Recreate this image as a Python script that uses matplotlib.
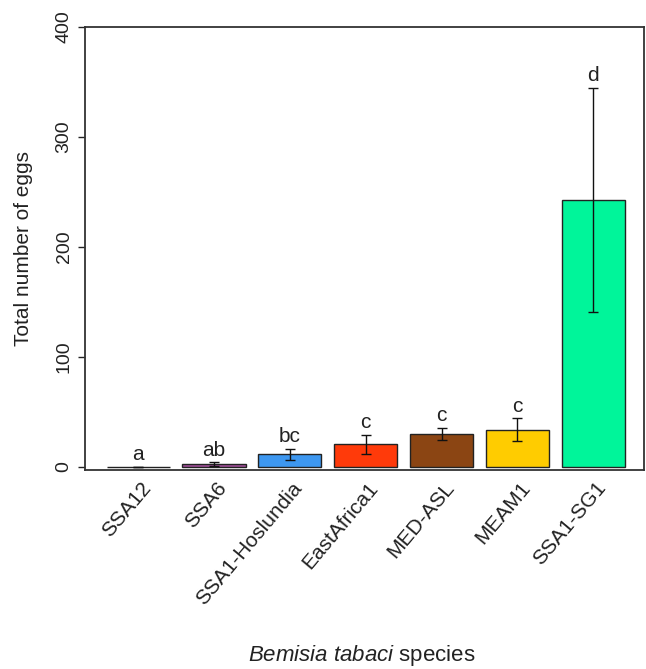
import numpy as np
import matplotlib
matplotlib.use("Agg")
import matplotlib.pyplot as plt

plt.rcParams["font.family"] = ["Liberation Sans", "DejaVu Sans"]
plt.rcParams["mathtext.fontset"] = "custom"
plt.rcParams["mathtext.it"] = "Liberation Sans:italic"
plt.rcParams["mathtext.rm"] = "Liberation Sans"

species = ["SSA12", "SSA6", "SSA1-Hoslundia", "EastAfrica1", "MED-ASL", "MEAM1", "SSA1-SG1"]
eggs = [0.4, 2.8, 11.5, 20.6, 30.0, 33.8, 242.7]
err = [0.0, 1.5, 5.0, 8.7, 5.6, 10.4, 102.0]
letters = ["a", "ab", "bc", "c", "c", "c", "d"]
colors = ["#FFFFFF", "#A0509A", "#3D97F0", "#FF3A0A", "#8B4513", "#FFCC00", "#00F59A"]

fig = plt.figure(figsize=(6.46, 6.69), dpi=100)
ax = fig.add_axes([0.1316, 0.2975, 0.8654, 0.6621])

x = np.arange(len(species))
ax.bar(x, eggs, width=0.833, color=colors, edgecolor="#222222", linewidth=1.0, zorder=2)
ax.errorbar(x, eggs, yerr=err, fmt="none", ecolor="#111111", elinewidth=1.0,
            capsize=3.5, capthick=1.0, zorder=3)

# significance letters just above the error bars
for xi, m, e, lab in zip(x, eggs, err, letters):
    ax.text(xi, m + e + 11, lab, ha="center", va="center", fontsize=15, color="#222222")

ax.set_xlim(-0.70, 6.67)
ax.set_ylim(-2.7, 400)
ax.set_yticks([0, 100, 200, 300, 400])
ax.set_yticklabels(["0", "100", "200", "300", "400"], rotation=90, va="center", fontsize=14)
ax.tick_params(axis="y", length=5, width=1, pad=4, colors="#222222")
ax.set_xticks([])

for xi, lab in zip(x, species):
    ax.text(xi + 0.12, -16, lab, rotation=50, rotation_mode="anchor", ha="right", va="center",
            fontsize=15, color="#222222", clip_on=False)

for s in ax.spines.values():
    s.set_linewidth(1.3)
    s.set_color("#333333")

ax.set_ylabel("Total number of eggs", fontsize=15, color="#222222", labelpad=16)

fig.text(362 / 646, 1 - 655 / 669, r"$\it{Bemisia\ tabaci}$ species", ha="center", va="center",
         fontsize=16, color="#222222")

fig.savefig("out.png", dpi=100)
